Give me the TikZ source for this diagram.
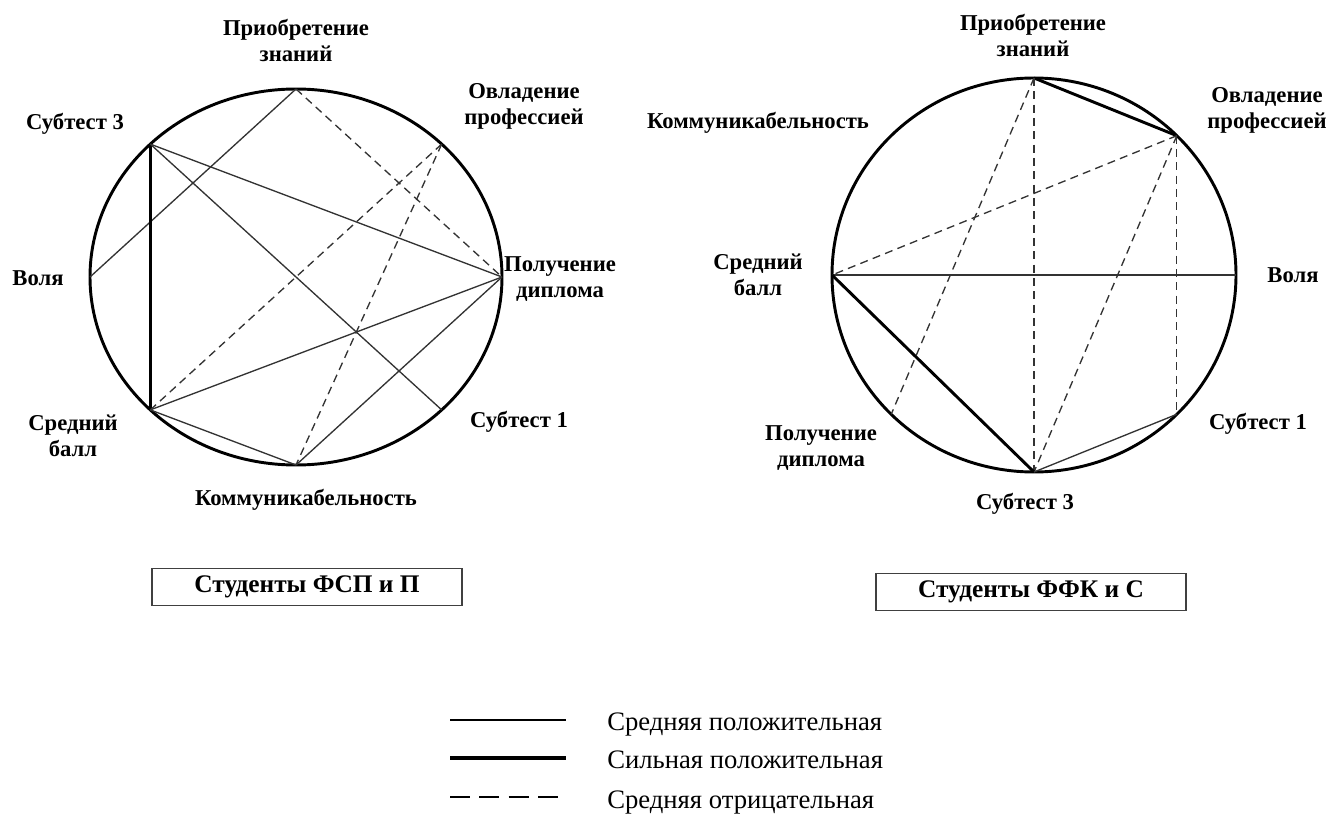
\documentclass[tikz,border=0pt]{standalone}
\usepackage{fontspec}
\setmainfont{Liberation Serif}
\begin{document}
\begin{tikzpicture}[x=0.75pt,y=-0.75pt,
  lab/.style={font=\bfseries\fontsize{17}{19.5}\selectfont, align=center, inner sep=0pt},
  rim/.style={line width=2.2pt},
  mpos/.style={line width=1pt, draw=black!80},
  spos/.style={line width=2.2pt},
  mneg/.style={line width=1pt, draw=black!80, dash pattern=on 6pt off 4pt},
  grp/.style={draw=black!75, line width=1.1pt, minimum width=232.5pt, minimum height=28pt, font=\bfseries\fontsize{19}{21}\selectfont},
  leg/.style={font=\fontsize{20}{22}\selectfont, anchor=base west, inner sep=0pt}]
\useasboundingbox (0,0) rectangle (1327,830);
% ---------- left circle ----------
\coordinate (LC) at (296,277);
\draw[rim] (LC) ellipse [x radius=154.5pt, y radius=141pt];
\coordinate (Lpz) at (296,89);
\coordinate (Lop) at (441.7,144.1);
\coordinate (Lpd) at (502,277);
\coordinate (Ls1) at (441.7,409.9);
\coordinate (Lkm) at (296,465);
\coordinate (Lsb) at (150.3,409.9);
\coordinate (Lvo) at (90,277);
\coordinate (Ls3) at (150.3,144.1);
\draw[mpos] (Lpz) -- (Lvo);
\draw[mneg] (Lpz) -- (Lpd);
\draw[spos] (Ls3) -- (Lsb);
\draw[mpos] (Ls3) -- (Lpd);
\draw[mpos] (Ls3) -- (Ls1);
\draw[mneg] (Lop) -- (Lsb);
\draw[mneg] (Lop) -- (Lkm);
\draw[mpos] (Lsb) -- (Lpd);
\draw[mpos] (Lsb) -- (Lkm);
\draw[mpos] (Lkm) -- (Lpd);
\node[lab] (tLpz) at (296,41) {Приобретение\\знаний};
\node[lab] (tLop) at (524,106) {Овладение\\профессией};
\node[lab] (tLs3) at (75,124) {Субтест 3};
\node[lab] (tLvo) at (38,278) {Воля};
\node[lab] (tLpd) at (560,279) {Получение\\диплома};
\node[lab] (tLs1) at (519,422) {Субтест 1};
\node[lab] (tLsb) at (73,436) {Средний\\балл};
\node[lab] (tLkm) at (306,500) {Коммуникабельность};
\node[grp] (gL) at (307,587) {Студенты ФСП и П};
% ---------- right circle ----------
\coordinate (RC) at (1034,275);
\draw[rim] (RC) ellipse [x radius=151.5pt, y radius=147.75pt];
\coordinate (Rpz) at (1034,78);
\coordinate (Rop) at (1176.8,135.7);
\coordinate (Rvo) at (1236,275);
\coordinate (Rs1) at (1176.8,414.3);
\coordinate (Rs3) at (1034,472);
\coordinate (Rpd) at (891.2,414.3);
\coordinate (Rsb) at (832,275);
\draw[spos] (Rpz) -- (Rop);
\draw[mneg] (Rpz) -- (Rpd);
\draw[mneg] (Rpz) -- (Rs3);
\draw[mneg] (Rop) -- (Rsb);
\draw[mneg] (Rop) -- (Rs3);
\draw[mneg] (Rop) -- (Rs1);
\draw[mpos] (Rsb) -- (Rvo);
\draw[spos] (Rsb) -- (Rs3);
\draw[mpos] (Rs3) -- (Rs1);
\node[lab] (tRpz) at (1033,36) {Приобретение\\знаний};
\node[lab] (tRop) at (1267,110) {Овладение\\профессией};
\node[lab] (tRkm) at (758,123) {Коммуникабельность};
\node[lab] (tRsb) at (758,275) {Средний\\балл};
\node[lab] (tRvo) at (1293,275) {Воля};
\node[lab] (tRs1) at (1258,424) {Субтест 1};
\node[lab] (tRpd) at (821,448) {Получение\\диплома};
\node[lab] (tRs3) at (1025,504) {Субтест 3};
\node[grp] (gR) at (1031,592) {Студенты ФФК и С};
% ---------- legend ----------
\coordinate (k1a) at (450,720); \coordinate (k1b) at (566,720);
\coordinate (k2a) at (450,758); \coordinate (k2b) at (566,758);
\coordinate (k3a) at (450,797); \coordinate (k3b) at (566,797);
\draw[line width=1.5pt] (k1a) -- (k1b);
\draw[line width=3.5pt] (k2a) -- (k2b);
\draw[line width=1.5pt, dash pattern=on 15pt off 7pt] (k3a) -- (k3b);
\node[leg] (t1) at (607,730) {Средняя положительная};
\node[leg] (t2) at (607,768) {Сильная положительная};
\node[leg] (t3) at (607,808) {Средняя отрицательная};
\end{tikzpicture}
\end{document}
